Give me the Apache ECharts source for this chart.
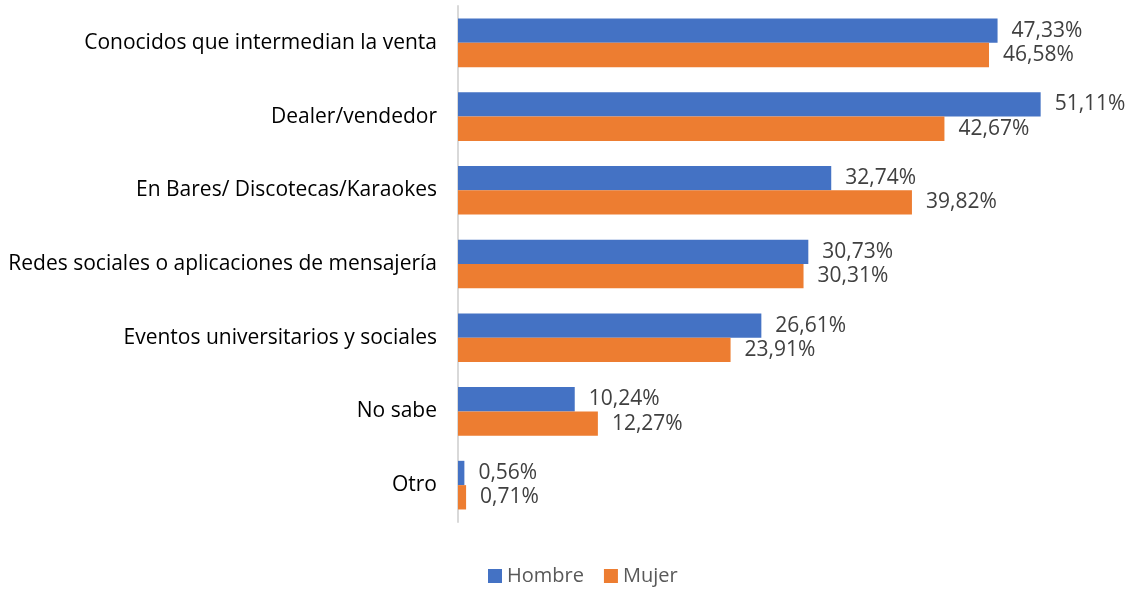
<!DOCTYPE html>
<html>
<head>
<meta charset="utf-8">
<script src="https://cdn.jsdelivr.net/npm/echarts@6/dist/echarts.min.js"></script>
<style>
  html, body { margin: 0; padding: 0; background: #fff; }
  #chart { width: 1133px; height: 589px; }
</style>
</head>
<body>
<div id="chart"></div>
<script>
// categorias de arriba hacia abajo
var categorias = [
    'Conocidos que intermedian la venta',
    'Dealer/vendedor',
    'En Bares/ Discotecas/Karaokes',
    'Redes sociales o aplicaciones de mensajería',
    'Eventos universitarios y sociales',
    'No sabe',
    'Otro'
];
var hombre = [47.33, 51.11, 32.74, 30.73, 26.61, 10.24, 0.56];
var mujer = [46.58, 42.67, 39.82, 30.31, 23.91, 12.27, 0.71];

var fuente = 'Open Sans';
var chart = echarts.init(document.getElementById('chart'));

function etiqueta(p) {
    return p.value.toFixed(2).replace('.', ',') + '%';
}

var option = {
    animation: false,
    textStyle: { fontFamily: fuente },
    grid: { left: 458, right: 48, top: 6, bottom: 67, containLabel: false },
    legend: {
        top: 561,
        left: 483,
        itemWidth: 14,
        itemHeight: 14,
        itemGap: 20,
        icon: 'rect',
        textStyle: { fontFamily: fuente, fontSize: 20, color: '#595959' },
        data: ['Hombre', 'Mujer']
    },
    xAxis: {
        type: 'value',
        min: 0,
        max: 55,
        show: false
    },
    yAxis: {
        type: 'category',
        inverse: true,
        data: categorias,
        axisLine: { show: true, lineStyle: { color: '#d9d9d9', width: 2 } },
        axisTick: { show: false },
        axisLabel: { fontFamily: fuente, fontSize: 21, color: '#000', margin: 21 }
    },
    series: [
        {
            name: 'Hombre',
            type: 'bar',
            data: hombre,
            barGap: '0%',
            barCategoryGap: '34%',
            itemStyle: { color: '#4472c4' },
            label: { show: true, position: 'right', distance: 14, formatter: etiqueta,
                     fontFamily: fuente, fontSize: 21, color: '#404040' }
        },
        {
            name: 'Mujer',
            type: 'bar',
            data: mujer,
            itemStyle: { color: '#ed7d31' },
            label: { show: true, position: 'right', distance: 14, formatter: etiqueta,
                     fontFamily: fuente, fontSize: 21, color: '#404040' }
        }
    ]
};
chart.setOption(option);
</script>
</body>
</html>
